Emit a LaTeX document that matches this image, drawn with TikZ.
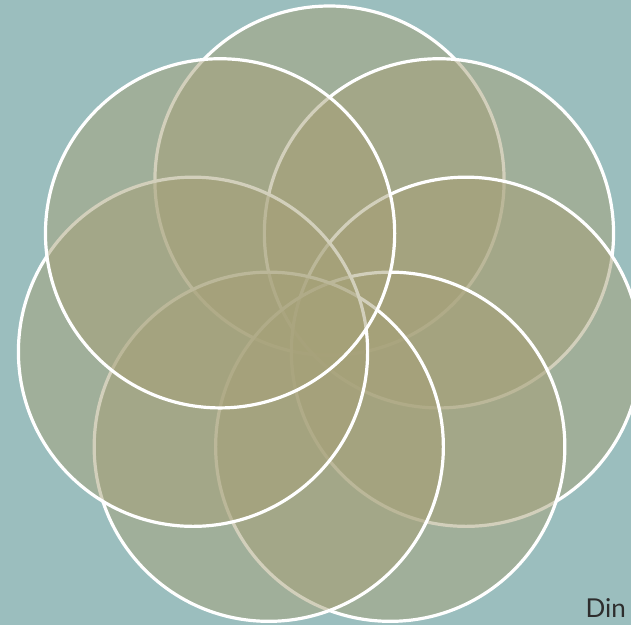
\documentclass[tikz,border=0pt]{standalone}
\usepackage{fontspec}
\setmainfont{Lato}
\definecolor{bgteal}{RGB}{155,190,190}
\definecolor{olivefill}{RGB}{166,161,120}
\definecolor{textgray}{RGB}{45,45,45}
\tikzset{petal/.style={draw=white, line width=3.2pt, fill=olivefill, fill opacity=0.5}}
\begin{document}
\begin{tikzpicture}[x=1pt,y=-1pt]
\clip (0,0) rectangle (631,625);
\fill[bgteal] (0,0) rectangle (631,625);
\foreach \k in {0,...,6}{
  \path[petal] ({329.5+140*sin(\k*360/7)},{320.6-140*cos(\k*360/7)}) circle[radius=174.6];
}
\node[anchor=base east, inner sep=0pt, text=textgray, font=\fontsize{26}{26}\selectfont] (lbl) at (626,617) {Din};
\end{tikzpicture}
\end{document}
